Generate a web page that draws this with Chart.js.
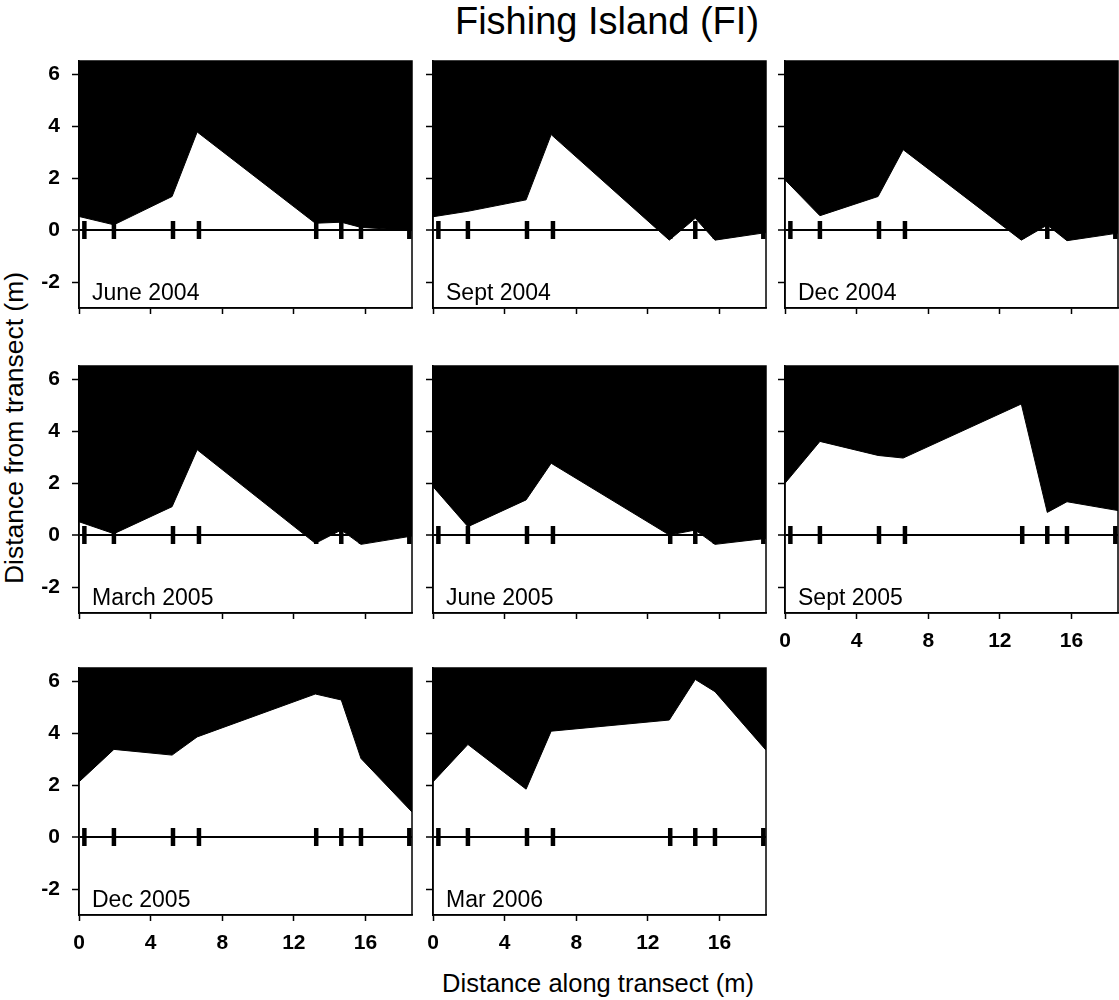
<!DOCTYPE html>
<html>
<head>
<meta charset="utf-8">
<title>Fishing Island (FI)</title>
<script src="https://cdn.jsdelivr.net/npm/chart.js@4.4.0/dist/chart.umd.min.js"></script>
<style>
  body { margin: 0; width: 1119px; height: 1000px; position: relative; overflow: hidden; background: #fff;
         font-family: Arial, "Liberation Sans", sans-serif; color: #000; }
  canvas { position: absolute; }
  .label { position: absolute; text-align: center; white-space: nowrap; }
  #mainTitle { left: 357px; width: 500px; top: -1px; font-size: 38px; line-height: 44px; }
  #xTitle { left: 348px; width: 500px; top: 968px; font-size: 25.5px; line-height: 30px; }
  #yTitle { left: -236px; width: 500px; top: 413px; font-size: 26.5px; line-height: 30px; transform: rotate(-90deg); }
</style>
</head>
<body>
<div id="mainTitle" class="label">Fishing Island (FI)</div>
<div id="yTitle" class="label">Distance from transect (m)</div>
<div id="xTitle" class="label">Distance along transect (m)</div>
<script>
// axis ticks
const xTicks = [0, 4, 8, 12, 16];
const yTicks = [-2, 0, 2, 4, 6];

// survey stakes along the transect (m)
const stations = [0.3, 1.95, 5.25, 6.7, 13.25, 14.65, 15.75, 18.45];

// x positions of the vegetation edge readings (m)
const edgeX = [0, 1.95, 5.2, 6.6, 13.2, 14.65, 15.75, 18.6];

// edge distance from transect (m), one array per survey
const june2004  = [0.52, 0.2, 1.29, 3.77, 0.26, 0.3, 0.1, -0.02];
const sept2004  = [0.51, 0.72, 1.16, 3.67, -0.39, 0.45, -0.39, -0.1];
const dec2004   = [1.93, 0.55, 1.29, 3.09, -0.39, 0.19, -0.41, -0.12];
const march2005 = [0.51, 0.05, 1.09, 3.28, -0.32, 0.19, -0.36, -0.04];
const june2005  = [1.86, 0.32, 1.35, 2.76, 0.0, 0.19, -0.36, -0.13];
const sept2005  = [1.99, 3.6, 3.06, 2.96, 5.04, 0.87, 1.28, 0.94];
const dec2005   = [2.12, 3.37, 3.15, 3.85, 5.5, 5.27, 3.02, 0.96];
const mar2006   = [2.12, 3.56, 1.84, 4.07, 4.5, 6.06, 5.59, 3.34];

const surveyNames = ['June 2004', 'Sept 2004', 'Dec 2004', 'March 2005', 'June 2005', 'Sept 2005', 'Dec 2005', 'Mar 2006'];
const surveyData = [june2004, sept2004, dec2004, march2005, june2005, sept2005, dec2005, mar2006];

// panel placement
const colLeft = [19, 373, 725];
const rowTop = [57, 362, 664];
const fontFamily = 'Arial, "Liberation Sans", sans-serif';

// box round the plot area + survey name in the lower left corner
const panelFrame = {
    id: 'panelFrame',
    afterDatasetsDraw(chart, args, opts) {
        const { ctx, chartArea: a } = chart;
        ctx.save();
        ctx.strokeStyle = '#000';
        ctx.lineWidth = 1.5;
        ctx.strokeRect(a.left, a.top, a.right - a.left, a.bottom - a.top);
        ctx.font = '23px ' + fontFamily;
        ctx.fillStyle = '#000';
        ctx.textBaseline = 'alphabetic';
        ctx.fillText(opts.label, a.left + 13, a.bottom - 8);
        ctx.restore();
    }
};

// keep every panel's plot area the same size, whatever labels it shows
function fixSize(axis, w, h) {
    if (w) axis.width = w;
    if (h) axis.height = h;
    axis.paddingTop = 0;
    axis.paddingBottom = 0;
    axis.paddingLeft = 0;
    axis.paddingRight = 0;
}

surveyNames.forEach((name, i) => {
    const row = Math.floor(i / 3);
    const col = i % 3;
    const showX = i >= 5;
    const showY = col === 0;

    const canvas = document.createElement('canvas');
    canvas.width = 394;
    canvas.height = 301;
    canvas.style.left = colLeft[col] + 'px';
    canvas.style.top = rowTop[row] + 'px';
    document.body.appendChild(canvas);

    const values = surveyData[i];

    new Chart(canvas, {
        type: 'line',
        data: {
            datasets: [
                {
                    data: stations.map(x => ({ x: x, y: 0 })),
                    showLine: false,
                    pointStyle: 'line',
                    rotation: 90,
                    pointRadius: 9,
                    pointBorderWidth: 4.5,
                    pointBorderColor: '#000',
                    pointBackgroundColor: '#000',
                    order: 0
                },
                {
                    data: edgeX.map((x, k) => ({ x: x, y: values[k] })),
                    fill: 'end',
                    backgroundColor: '#000',
                    borderColor: '#000',
                    borderWidth: 1,
                    pointRadius: 0,
                    tension: 0,
                    order: 1
                }
            ]
        },
        options: {
            responsive: false,
            animation: false,
            events: [],
            layout: { autoPadding: false, padding: { top: 4, right: 1, left: 0, bottom: 0 } },
            plugins: {
                legend: { display: false },
                tooltip: { enabled: false },
                panelFrame: { label: name }
            },
            scales: {
                x: {
                    type: 'linear',
                    min: 0,
                    max: 18.6,
                    afterBuildTicks: axis => { axis.ticks = xTicks.map(v => ({ value: v })); },
                    afterFit: axis => fixSize(axis, 0, 50),
                    grid: { drawOnChartArea: false, drawTicks: true, tickLength: 6, tickColor: '#000', tickWidth: 1.5 },
                    border: { display: true, color: '#000', width: 1.5 },
                    ticks: {
                        display: showX,
                        color: '#000',
                        padding: 10,
                        maxRotation: 0,
                        autoSkip: false,
                        font: { family: fontFamily, size: 21, weight: 'bold' }
                    }
                },
                y: {
                    type: 'linear',
                    min: -3,
                    max: 6.5,
                    afterBuildTicks: axis => { axis.ticks = yTicks.map(v => ({ value: v })); },
                    afterFit: axis => fixSize(axis, 60, 0),
                    grid: {
                        drawOnChartArea: true,
                        drawTicks: true,
                        color: c => (c.tick && c.tick.value === 0) ? '#000' : 'rgba(0,0,0,0)',
                        lineWidth: c => (c.tick && c.tick.value === 0) ? 2 : 1,
                        tickLength: 7,
                        tickColor: '#000',
                        tickWidth: 1.5
                    },
                    border: { display: true, color: '#000', width: 1.5 },
                    ticks: {
                        display: showY,
                        color: '#000',
                        padding: 12,
                        autoSkip: false,
                        font: { family: fontFamily, size: 21, weight: 'bold' }
                    }
                }
            }
        },
        plugins: [panelFrame]
    });
});
</script>
</body>
</html>
